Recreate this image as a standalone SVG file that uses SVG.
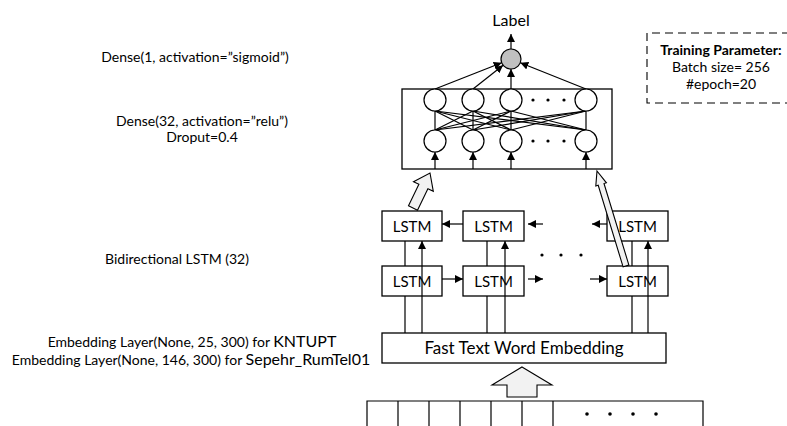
<svg xmlns="http://www.w3.org/2000/svg" width="787" height="426" viewBox="0 0 787 426">
<defs>
<marker id="ah" markerWidth="8" markerHeight="8" refX="8" refY="4" orient="auto" markerUnits="userSpaceOnUse">
<path d="M0,0 L8,4 L0,8 z" fill="#000"/>
</marker>
<style>
.t{font-family:Lato,"Liberation Sans",sans-serif;fill:#000;text-anchor:middle}
.box{fill:#fff;stroke:#000;stroke-width:1.3}
.ln{stroke:#000;stroke-width:1.2;fill:none}
.ar{stroke:#000;stroke-width:1.2;fill:none;marker-end:url(#ah)}
.neu{fill:#fff;stroke:#000;stroke-width:1.2}
.fat{fill:#f2f2f2;stroke:#000;stroke-width:1.1}
.dot{fill:#000}
</style>
</defs>
<rect width="787" height="426" fill="#fff"/>

<!-- left labels -->
<g id="labels">
<text class="t" x="195" y="62" font-size="14">Dense(1, activation=”sigmoid”)</text>
<text class="t" x="202" y="126" font-size="14">Dense(32, activation=”relu”)</text>
<text class="t" x="202" y="142" font-size="14">Droput=0.4</text>
<text class="t" x="177" y="264" font-size="14">Bidirectional LSTM (32)</text>
<text class="t" x="192" y="347" font-size="14">Embedding Layer(None, 25, 300) for  <tspan font-size="16">KNTUPT</tspan></text>
<text class="t" x="191" y="365" font-size="14">Embedding Layer(None, 146, 300) for <tspan font-size="16">Sepehr_RumTel01</tspan></text>
<text class="t" x="511" y="26" font-size="16">Label</text>
</g>

<!-- training parameter box -->
<g id="training">
<path d="M790,33 H647 V103 H790" fill="none" stroke="#000" stroke-width="1.1" stroke-dasharray="8,5"/>
<text class="t" x="721" y="55" font-size="14" font-weight="bold">Training Parameter:</text>
<text class="t" x="721" y="72" font-size="14">Batch size= 256</text>
<text class="t" x="721" y="89" font-size="14">#epoch=20</text>
</g>

<!-- dense block -->
<g id="dense">
<rect class="box" x="402" y="89" width="210" height="80"/>
<g class="ln">
<line x1="435" y1="111" x2="435" y2="130"/><line x1="435" y1="111" x2="473" y2="130"/><line x1="435" y1="111" x2="511" y2="130"/><line x1="435" y1="111" x2="586" y2="130"/>
<line x1="473" y1="111" x2="435" y2="130"/><line x1="473" y1="111" x2="473" y2="130"/><line x1="473" y1="111" x2="511" y2="130"/><line x1="473" y1="111" x2="586" y2="130"/>
<line x1="511" y1="111" x2="435" y2="130"/><line x1="511" y1="111" x2="473" y2="130"/><line x1="511" y1="111" x2="511" y2="130"/><line x1="511" y1="111" x2="586" y2="130"/>
<line x1="586" y1="111" x2="435" y2="130"/><line x1="586" y1="111" x2="473" y2="130"/><line x1="586" y1="111" x2="511" y2="130"/><line x1="586" y1="111" x2="586" y2="130"/>
</g>
<circle class="neu" cx="435" cy="100" r="11"/><circle class="neu" cx="473" cy="100" r="11"/><circle class="neu" cx="511" cy="100" r="11"/><circle class="neu" cx="586" cy="100" r="11"/>
<circle class="neu" cx="435" cy="141" r="11"/><circle class="neu" cx="473" cy="141" r="11"/><circle class="neu" cx="511" cy="141" r="11"/><circle class="neu" cx="586" cy="141" r="11"/>
<circle class="dot" cx="533" cy="100" r="1.6"/><circle class="dot" cx="548" cy="100" r="1.6"/><circle class="dot" cx="564" cy="100" r="1.6"/>
<circle class="dot" cx="533" cy="141" r="1.6"/><circle class="dot" cx="548" cy="141" r="1.6"/><circle class="dot" cx="564" cy="141" r="1.6"/>
</g>

<g id="output">
<circle cx="511" cy="59" r="10" fill="#c0c0c0" stroke="#000" stroke-width="1.2"/>
</g>

<!-- LSTM nodes -->
<g id="lstm-b1"><rect class="box" x="382" y="211" width="60" height="30"/><text class="t" x="412" y="232" font-size="15">LSTM</text></g>
<g id="lstm-b2"><rect class="box" x="463" y="211" width="61" height="30"/><text class="t" x="493.5" y="232" font-size="15">LSTM</text></g>
<g id="lstm-b3"><rect class="box" x="607" y="211" width="61" height="30"/><text class="t" x="637.5" y="232" font-size="15">LSTM</text></g>
<g id="lstm-f1"><rect class="box" x="382" y="266" width="60" height="30"/><text class="t" x="412" y="287" font-size="15">LSTM</text></g>
<g id="lstm-f2"><rect class="box" x="463" y="266" width="61" height="30"/><text class="t" x="493.5" y="287" font-size="15">LSTM</text></g>
<g id="lstm-f3"><rect class="box" x="607" y="266" width="61" height="30"/><text class="t" x="637.5" y="287" font-size="15">LSTM</text></g>
<g id="lstm-dots"><circle class="dot" cx="542" cy="255" r="1.6"/><circle class="dot" cx="561" cy="255" r="1.6"/><circle class="dot" cx="581" cy="255" r="1.6"/></g>

<!-- embedding -->
<g id="embedding"><rect class="box" x="382" y="333" width="284" height="30"/><text class="t" x="524" y="354" font-size="17">Fast Text Word Embedding</text></g>

<!-- input sequence -->
<g id="input">
<path class="ln" d="M367,430 V401 H703 V430 M398,401 V430 M429,401 V430 M460,401 V430 M491,401 V430 M522,401 V430 M553,401 V430"/>
<circle class="dot" cx="587" cy="414" r="1.8"/><circle class="dot" cx="610" cy="414" r="1.8"/><circle class="dot" cx="633" cy="414" r="1.8"/><circle class="dot" cx="656" cy="414" r="1.8"/>
</g>

<!-- connectors -->
<g id="connectors">
<line class="ar" x1="511" y1="49" x2="511" y2="34"/>
<line class="ar" x1="435" y1="89" x2="501.7" y2="62.7"/>
<line class="ar" x1="473" y1="89" x2="503.1" y2="65.2"/>
<line class="ar" x1="511" y1="89" x2="511" y2="69"/>
<line class="ar" x1="586" y1="89" x2="520.3" y2="62.7"/>
<line class="ar" x1="435" y1="169" x2="435" y2="152"/>
<line class="ar" x1="473" y1="169" x2="473" y2="152"/>
<line class="ar" x1="511" y1="169" x2="511" y2="152"/>
<line class="ar" x1="586" y1="169" x2="586" y2="152"/>

<line class="ar" x1="463" y1="224" x2="442" y2="224"/>
<line class="ar" x1="543" y1="224" x2="528" y2="224"/>
<line class="ar" x1="607" y1="224" x2="592" y2="224"/>
<line class="ar" x1="442" y1="279" x2="463" y2="279"/>
<line class="ar" x1="528" y1="279" x2="543" y2="279"/>
<line class="ar" x1="590" y1="279" x2="607" y2="279"/>

<path class="ln" d="M405,333 V296 M405,266 V241 M487,333 V296 M487,266 V241 M632,333 V296 M632,266 V241"/>
<line class="ar" x1="422" y1="333" x2="422" y2="241"/>
<line class="ar" x1="505" y1="333" x2="505" y2="241"/>
<line class="ar" x1="648" y1="333" x2="648" y2="241"/>

<polygon class="fat" points="430,173 433.3,191.3 427.9,188.7 417.5,210.2 408.5,205.8 418.9,184.3 413.5,181.7"/>
<polygon class="fat" points="597,171 606.4,182.8 604,183.5 628.9,265.1 623.1,266.9 598.2,185.3 595.8,186"/>
<polygon class="fat" points="522,367 552,385 537,385 537,397 507,397 507,385 492,385"/>
</g>
</svg>
